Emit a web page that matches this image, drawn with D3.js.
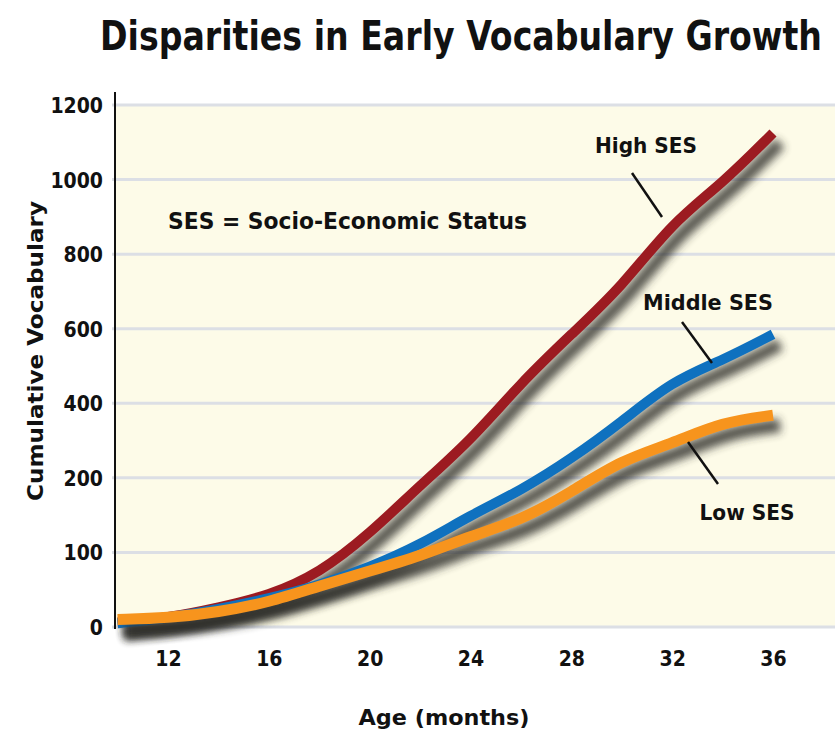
<!DOCTYPE html>
<html>
<head>
<meta charset="utf-8">
<script src="https://cdnjs.cloudflare.com/ajax/libs/d3/7.8.5/d3.min.js"></script>
<style>
  body { margin: 0; background: #fff; }
  svg text { font-family: "DejaVu Sans Condensed", "DejaVu Sans", sans-serif; fill: #111; font-weight: bold; }
</style>
</head>
<body>
<script>
// ages in months
var months = [10, 12, 14, 16, 18, 20, 22, 24, 26, 28, 30, 32, 34, 36];
var highSES   = [6, 12, 26, 42, 72, 125, 190, 300, 455, 585, 712, 885, 990, 1125];
var middleSES = [5, 12, 24, 38, 56, 80, 110, 150, 183, 251, 350, 460, 515, 585];
var lowSES    = [10, 12, 20, 33, 55, 75, 95, 122, 143, 181, 248, 292, 350, 368];
var yTicks = [0, 100, 200, 400, 600, 800, 1000, 1200];
var xTicks = [12, 16, 20, 24, 28, 32, 36];

var width = 835,
    height = 732,
    plotLeft = 115,
    plotRight = 835,
    plotTop = 105,
    plotBottom = 627;

var svg = d3.select("body").append("svg")
    .attr("width", width)
    .attr("height", height);

var defs = svg.append("defs");
defs.append("filter")
    .attr("id", "blur")
    .attr("x", "-10%").attr("y", "-10%")
    .attr("width", "120%").attr("height", "130%")
    .append("feGaussianBlur")
    .attr("stdDeviation", 4);

var x = d3.scaleLinear().domain([12, 36]).range([168, 773]);
// ticks are evenly spaced even though the values are not
var y = d3.scaleLinear()
    .domain(yTicks)
    .range(yTicks.map(function(d, i) { return plotBottom - i * (plotBottom - plotTop) / (yTicks.length - 1); }));

// plot background
svg.append("rect")
    .attr("x", plotLeft).attr("y", plotTop)
    .attr("width", plotRight - plotLeft).attr("height", plotBottom - plotTop)
    .attr("fill", "#fdfbe8");

// grid lines
svg.append("g")
    .selectAll("line")
    .data(yTicks)
    .enter().append("line")
    .attr("x1", plotLeft - 3)
    .attr("x2", plotRight)
    .attr("y1", function(d) { return y(d); })
    .attr("y2", function(d) { return y(d); })
    .attr("stroke", "#dcdfe5")
    .attr("stroke-width", 3);

// y axis
var yAxis = svg.append("g")
    .attr("transform", "translate(" + plotLeft + ",0)")
    .call(d3.axisLeft(y).tickValues(yTicks).tickFormat(d3.format("d")).tickSize(0).tickPadding(12));
yAxis.select(".domain").remove();
yAxis.selectAll("text")
    .attr("font-size", 21)
    .attr("font-family", null)
    .attr("fill", "#111")
    .attr("dy", "0.36em");

// x axis labels
var xAxis = svg.append("g")
    .attr("transform", "translate(0," + plotBottom + ")")
    .call(d3.axisBottom(x).tickValues(xTicks).tickSize(0).tickPadding(24));
xAxis.select(".domain").remove();
xAxis.selectAll("text")
    .attr("font-size", 21)
    .attr("font-family", null)
    .attr("fill", "#111");

var series = [
    { name: "High SES", values: highSES, color: "#9c1b21", w: 10 },
    { name: "Middle SES", values: middleSES, color: "#0f71bf", w: 10 },
    { name: "Low SES", values: lowSES, color: "#f7941d", w: 11 }
];

var line = d3.line()
    .x(function(d) { return x(d[0]); })
    .y(function(d) { return y(d[1]); })
    .curve(d3.curveBasis);

series.forEach(function(s) {
    var pts = months.map(function(m, i) { return [m, s.values[i]]; });
    svg.append("path")
        .attr("d", line(pts))
        .attr("transform", "translate(7,10)")
        .attr("fill", "none")
        .attr("stroke", "#2f2f2a")
        .attr("stroke-width", s.w + 3)
        .attr("opacity", 0.8)
        .attr("filter", "url(#blur)");
    svg.append("path")
        .attr("d", line(pts))
        .attr("fill", "none")
        .attr("stroke", s.color)
        .attr("stroke-width", s.w)
        .attr("stroke-linecap", "butt");
});

// axis line
svg.append("line")
    .attr("x1", plotLeft).attr("x2", plotLeft)
    .attr("y1", 92).attr("y2", 629)
    .attr("stroke", "#111")
    .attr("stroke-width", 2);

// annotations
var notes = [
    { text: "High SES", x: 646, y: 153, len: 102, lx1: 632, ly1: 173, lx2: 662, ly2: 217 },
    { text: "Middle SES", x: 708, y: 310, len: 130, lx1: 682, ly1: 322, lx2: 712, ly2: 363 },
    { text: "Low SES", x: 747, y: 520, len: 95, lx1: 688, ly1: 442, lx2: 718, ly2: 484 }
];
notes.forEach(function(n) {
    svg.append("text")
        .attr("x", n.x).attr("y", n.y)
        .attr("text-anchor", "middle")
        .attr("font-size", 22)
        .attr("textLength", n.len)
        .attr("lengthAdjust", "spacingAndGlyphs")
        .text(n.text);
    svg.append("line")
        .attr("x1", n.lx1).attr("y1", n.ly1)
        .attr("x2", n.lx2).attr("y2", n.ly2)
        .attr("stroke", "#111")
        .attr("stroke-width", 2.5);
});

svg.append("text")
    .attr("x", 168).attr("y", 229)
    .attr("font-size", 23)
    .attr("textLength", 359)
    .attr("lengthAdjust", "spacingAndGlyphs")
    .text("SES = Socio-Economic Status");

// title
svg.append("text")
    .attr("x", 461).attr("y", 50)
    .attr("text-anchor", "middle")
    .attr("font-size", 40)
    .attr("textLength", 722)
    .attr("lengthAdjust", "spacingAndGlyphs")
    .text("Disparities in Early Vocabulary Growth");

// axis titles
svg.append("text")
    .attr("x", 444).attr("y", 725)
    .attr("text-anchor", "middle")
    .attr("font-size", 22)
    .attr("textLength", 171)
    .attr("lengthAdjust", "spacingAndGlyphs")
    .text("Age (months)");

svg.append("text")
    .attr("transform", "translate(43,351) rotate(-90)")
    .attr("text-anchor", "middle")
    .attr("font-size", 22)
    .attr("textLength", 300)
    .attr("lengthAdjust", "spacingAndGlyphs")
    .text("Cumulative Vocabulary");
</script>
</body>
</html>
